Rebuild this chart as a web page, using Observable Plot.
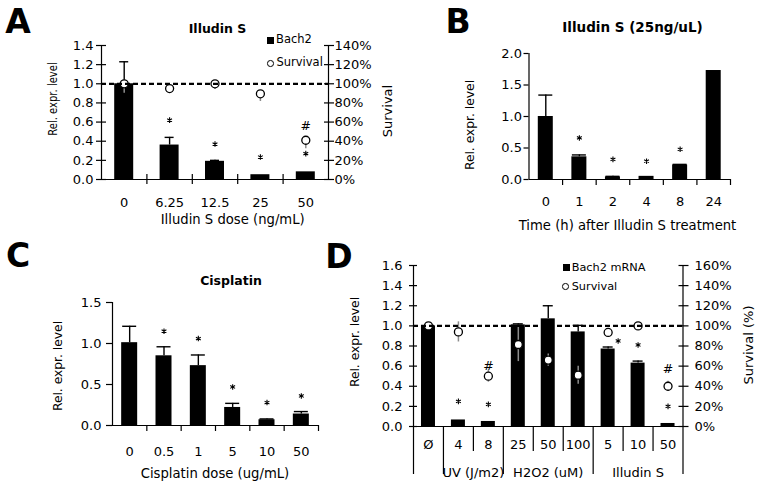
<!DOCTYPE html>
<html><head><meta charset="utf-8">
<script src="https://cdn.jsdelivr.net/npm/d3@7"></script>
<script src="https://cdn.jsdelivr.net/npm/@observablehq/plot@0.6"></script>
<style>
body{margin:0;background:#fff;}
#fig{position:relative;width:764px;height:491px;overflow:hidden;background:#fff;font-family:"DejaVu Sans",Verdana,sans-serif;color:#000;}
#fig svg{position:absolute;overflow:visible;}
.t{position:absolute;white-space:nowrap;line-height:1;transform:translate(-50%,-50%);}
.t.l{transform:translate(0,-50%);}
.t.rot{transform:translate(-50%,-50%) rotate(-90deg);}
.sq{position:absolute;background:#000;}
.ci{position:absolute;border:1px solid #000;border-radius:50%;background:#fff;box-sizing:border-box;}
</style></head><body><div id="fig"></div>
<script>
// ---------- Panel A : Illudin S dose ----------
const aDoses = ["0", "6.25", "12.5", "25", "50"];
const aBach2 = [1.00, 0.36, 0.19, 0.05, 0.08];
const aBach2SD = [0.23, 0.08, 0.01, 0, 0];
const aSurvival = [100, 95, 100, 89.5, 41];
const aSurvivalSD = [10, 3, 6, 8, 9];
const aStarAt = [null, 0.62, 0.37, 0.235, 0.27];
const aHashAt = [null, null, null, null, 0.56];
const aYTicks = [0, 0.2, 0.4, 0.6, 0.8, 1.0, 1.2, 1.4];

// ---------- Panel B : time course ----------
const bTimes = ["0", "1", "2", "4", "8", "24"];
const bBach2 = [1.00, 0.36, 0.04, 0.05, 0.23, 1.73];
const bBach2SD = [0.34, 0.03, 0.01, 0, 0.01, 0];
const bStarAt = [null, 0.66, 0.32, 0.29, 0.48, null];
const bYTicks = [0, 0.5, 1.0, 1.5, 2.0];

// ---------- Panel C : Cisplatin ----------
const cDoses = ["0", "0.5", "1", "5", "10", "50"];
const cBach2 = [1.01, 0.85, 0.73, 0.22, 0.07, 0.14];
const cBach2SD = [0.20, 0.11, 0.13, 0.05, 0.01, 0.03];
const cStarAt = [null, 1.15, 1.06, 0.47, 0.28, 0.36];
const cYTicks = [0, 0.5, 1.0, 1.5];

// ---------- Panel D : treatments ----------
const dLabels = ["Ø", "4", "8", "25", "50", "100", "5", "10", "50"];
const dGroups = ["", "UV (J/m2)", "UV (J/m2)", "H2O2 (uM)", "H2O2 (uM)", "H2O2 (uM)", "Illudin S", "Illudin S", "Illudin S"];
const dBach2 = [1.00, 0.065, 0.05, 1.01, 1.07, 0.94, 0.77, 0.63, 0.03];
const dBach2SD = [0, 0, 0, 0.01, 0.13, 0.065, 0.02, 0.02, 0];
const dSurvival = [100, 94, 50, 81.5, 66, 51, 93.5, 100, 40];
const dSurvivalSD = [0, 10, 6, 17, 6, 9, 0, 0, 5];
const dStarAt = [null, 0.25, 0.22, null, null, null, 0.85, 0.81, 0.20];
const dHashAt = [null, null, 0.60, null, 0.83, 0.79, null, null, 0.57];
const dYTicks = [0, 0.2, 0.4, 0.6, 0.8, 1.0, 1.2, 1.4, 1.6];

const FONT = '"DejaVu Sans", Verdana, sans-serif';
const fig = document.getElementById("fig");
const f1 = d3.format(".1f");
const pct = d => Math.round(d * 100) + "%";

function panel(o) {
  const n = o.labels.length;
  const idx = d3.range(n);
  const step = (o.width - o.ml - o.mr) / n;
  const hw = o.barPx / 2 / step, cw = o.capPx / 2 / step;
  const withSD = idx.filter(i => o.sd[i] > 0);
  const top = i => o.vals[i] + o.sd[i];
  const marks = [
    Plot.rectY(idx, {x1: i => i - hw, x2: i => i + hw, y1: 0, y2: i => o.vals[i], fill: "#000"}),
    Plot.ruleX(withSD, {x: i => i, y1: i => o.vals[i], y2: top, stroke: "#000", strokeWidth: 1.4}),
    Plot.ruleY(withSD, {y: top, x1: i => i - cw, x2: i => i + cw, stroke: "#000", strokeWidth: 1.4})
  ];
  // stars next to a survival circle are shifted to its right
  const nearCircle = i => o.surv && Math.abs(o.surv[i] / 100 - o.starAt[i]) < 0.1;
  if (o.surv) {
    marks.push(Plot.ruleX(idx.filter(i => o.survSD[i] > 0), {
      x: i => i,
      y1: i => (o.surv[i] + (o.survBoth ? o.survSD[i] : 0)) / 100,
      y2: i => (o.surv[i] - o.survSD[i]) / 100,
      stroke: "#8c8c8c", strokeWidth: 1.5}));
    marks.push(Plot.dot(idx, {x: i => i, y: i => o.surv[i] / 100, r: 4, fill: "white", stroke: "#000", strokeWidth: 1.3}));
    marks.push(Plot.ruleY([1], {stroke: "#000", strokeDasharray: "5,3", strokeWidth: 2.2}));
  }
  const stars = idx.filter(i => o.starAt[i] != null);
  const starStyle = {symbol: "asterisk", r: 2.6, stroke: "#000", strokeWidth: 1.1};
  marks.push(Plot.dot(stars.filter(i => !nearCircle(i)), {x: i => i, y: i => o.starAt[i], ...starStyle}));
  marks.push(Plot.dot(stars.filter(i => nearCircle(i)), {x: i => i, y: i => o.starAt[i], dx: 10, ...starStyle}));
  if (o.hashAt) {
    marks.push(Plot.text(idx.filter(i => o.hashAt[i] != null), {x: i => i, y: i => o.hashAt[i], text: () => "#", fill: "#000", fontSize: 12.5}));
  }
  marks.push(Plot.ruleY([0], {stroke: "#000", strokeWidth: 1.2}));
  marks.push(Plot.ruleX([-0.5], {stroke: "#000", strokeWidth: 1.2}));
  marks.push(Plot.axisY(o.yTicks, {anchor: "left", tickSize: o.lt.size, dx: o.lt.dx, tickPadding: o.lt.pad, tickFormat: f1, label: null, strokeWidth: 1.2, fontSize: 13}));
  if (o.surv) {
    marks.push(Plot.ruleX([n - 0.5], {stroke: "#000", strokeWidth: 1.2}));
    marks.push(Plot.axisY(o.yTicks, {anchor: "right", tickSize: o.rt.size, dx: o.rt.dx, tickPadding: o.rt.pad, tickFormat: pct, label: null, strokeWidth: 1.2, fontSize: 13}));
  }
  marks.push(...o.xMarks(idx));
  return Plot.plot({
    width: o.width, height: o.height,
    marginLeft: o.ml, marginRight: o.mr, marginTop: o.mt, marginBottom: o.mb,
    style: {background: "transparent", overflow: "visible", fontFamily: FONT, fontSize: "13px", color: "#000"},
    x: {domain: [-0.5, n - 0.5]},
    y: {domain: o.yDomain},
    marks
  });
}

function place(svg, left, top) {
  svg.style.left = left + "px";
  svg.style.top = top + "px";
  fig.append(svg);
}

// Panel A
place(panel({
  labels: aDoses, vals: aBach2, sd: aBach2SD, surv: aSurvival, survSD: aSurvivalSD, survBoth: false,
  starAt: aStarAt, hashAt: aHashAt, yTicks: aYTicks, yDomain: [0, 1.4],
  width: 380, height: 235, ml: 101, mr: 52, mt: 45, mb: 56, barPx: 19, capPx: 9,
  lt: {size: 10, dx: 5, pad: 3}, rt: {size: 10, dx: -5, pad: 1},
  xMarks: idx => [
    Plot.axisX(d3.range(0.5, idx.length - 1), {tickSize: 10, dy: -5, tickFormat: () => "", label: null, strokeWidth: 1.2}),
    Plot.axisX(idx, {tickSize: 0, tickPadding: 18, tickFormat: i => aDoses[i], label: null, fontSize: 13})
  ]
}), 0, 0);

// Panel B
place(panel({
  labels: bTimes, vals: bBach2, sd: bBach2SD, starAt: bStarAt, yTicks: bYTicks, yDomain: [0, 2],
  width: 384, height: 235, ml: 148.5, mr: 34, mt: 53, mb: 56, barPx: 15, capPx: 14,
  lt: {size: 5, dx: 0, pad: 2},
  xMarks: idx => [
    Plot.axisX(d3.range(0.5, idx.length), {tickSize: 6, tickFormat: () => "", label: null, strokeWidth: 1.2}),
    Plot.axisX(idx, {tickSize: 0, tickPadding: 17.5, tickFormat: i => bTimes[i], label: null, fontSize: 13})
  ]
}), 380, 0);

// Panel C
place(panel({
  labels: cDoses, vals: cBach2, sd: cBach2SD, starAt: cStarAt, yTicks: cYTicks, yDomain: [0, 1.5],
  width: 380, height: 256, ml: 112, mr: 62, mt: 67, mb: 66, barPx: 16, capPx: 14,
  lt: {size: 6, dx: 0, pad: 5},
  xMarks: idx => [
    Plot.axisX(d3.range(0.5, idx.length), {tickSize: 6, tickFormat: () => "", label: null, strokeWidth: 1.2}),
    Plot.axisX(idx, {tickSize: 0, tickPadding: 21, tickFormat: i => cDoses[i], label: null, fontSize: 13})
  ]
}), 0, 235);

// Panel D : group boundaries derived from dGroups
const dIdx = d3.range(dLabels.length);
const dLong = [-0.5, ...dIdx.slice(1).filter(i => dGroups[i] !== dGroups[i - 1]).map(i => i - 0.5), dLabels.length - 0.5];
const dShort = dIdx.slice(1).filter(i => dGroups[i] === dGroups[i - 1]).map(i => i - 0.5);
const dGroupNames = Array.from(new Set(dGroups)).filter(g => g);
const dGroupCenter = new Map(dGroupNames.map(g => {
  const members = dIdx.filter(i => dGroups[i] === g);
  return [(members[0] + members[members.length - 1]) / 2, g];
}));
place(panel({
  labels: dLabels, vals: dBach2, sd: dBach2SD, surv: dSurvival, survSD: dSurvivalSD, survBoth: true,
  starAt: dStarAt, hashAt: dHashAt, yTicks: dYTicks, yDomain: [0, 1.6],
  width: 384, height: 256, ml: 33, mr: 81.5, mt: 30, mb: 65, barPx: 14, capPx: 10,
  lt: {size: 8, dx: 4, pad: 7}, rt: {size: 10, dx: -5, pad: 6.5},
  xMarks: idx => [
    Plot.axisX(dLong, {tickSize: 48, tickFormat: () => "", label: null, strokeWidth: 1.2}),
    Plot.axisX(dShort, {tickSize: 25, tickFormat: () => "", label: null, strokeWidth: 1.2}),
    Plot.axisX(idx, {tickSize: 0, tickPadding: 13.5, tickFormat: i => dLabels[i], label: null, fontSize: 13}),
    Plot.axisX(Array.from(dGroupCenter.keys()), {tickSize: 0, tickPadding: 41, tickFormat: c => dGroupCenter.get(c), label: null, fontSize: 13})
  ]
}), 380, 235);

// ---------- HTML texts ----------
function T(text, x, y, o = {}) {
  const d = document.createElement("div");
  d.className = "t" + (o.rot ? " rot" : "") + (o.left ? " l" : "");
  d.textContent = text;
  d.style.left = x + "px";
  d.style.top = y + "px";
  d.style.fontSize = (o.size || 13) + "px";
  if (o.bold) d.style.fontWeight = "bold";
  if (o.squeeze) d.style.transform = `translate(-50%,-50%) rotate(-90deg) scaleX(${o.squeeze})`;
  fig.append(d);
}
// panel letters
T("A", 18, 21, {size: 33, bold: true});
T("B", 458, 21, {size: 33, bold: true});
T("C", 18, 254.5, {size: 33, bold: true});
T("D", 339, 256, {size: 33, bold: true});
// titles
T("Illudin S", 217.5, 29, {size: 12.5, bold: true});
T("Illudin S (25ng/uL)", 632.5, 27.5, {size: 13.5, bold: true});
T("Cisplatin", 231, 280.5, {size: 12.5, bold: true});
// axis titles
T("Illudin S dose (ng/mL)", 232.7, 220, {size: 13.2});
T("Time (h) after Illudin S treatment", 627.5, 226, {size: 13.2});
T("Cisplatin dose (ug/mL)", 215, 473.5, {size: 13.2});
T("Rel. expr. level", 53, 99, {size: 12.5, rot: true, squeeze: 0.8});
T("Rel. expr. level", 470, 125, {size: 12.3, rot: true});
T("Rel. expr. level", 58.3, 365.8, {size: 12.3, rot: true});
T("Rel. expr. level", 355, 341.7, {size: 12.3, rot: true});
T("Survival", 387, 110.8, {size: 13, rot: true});
T("Survival (%)", 748.3, 345, {size: 13, rot: true});
// legends
function sq(x, y, s) { const d = document.createElement("div"); d.className = "sq"; Object.assign(d.style, {left: x + "px", top: y + "px", width: s + "px", height: s + "px"}); fig.append(d); }
function ci(cx, cy, r) { const d = document.createElement("div"); d.className = "ci"; Object.assign(d.style, {left: (cx - r) + "px", top: (cy - r) + "px", width: 2 * r + "px", height: 2 * r + "px"}); fig.append(d); }
sq(266.7, 36.5, 7); T("Bach2", 276, 40, {size: 11.5, left: true});
ci(270.3, 63.3, 3.3); T("Survival", 276.5, 63.3, {size: 11.5, left: true});
sq(562.7, 264, 7); T("Bach2 mRNA", 571.7, 267.5, {size: 11.3, left: true});
ci(565.3, 286.7, 3.3); T("Survival", 571.7, 286.7, {size: 11.3, left: true});
</script></body></html>
